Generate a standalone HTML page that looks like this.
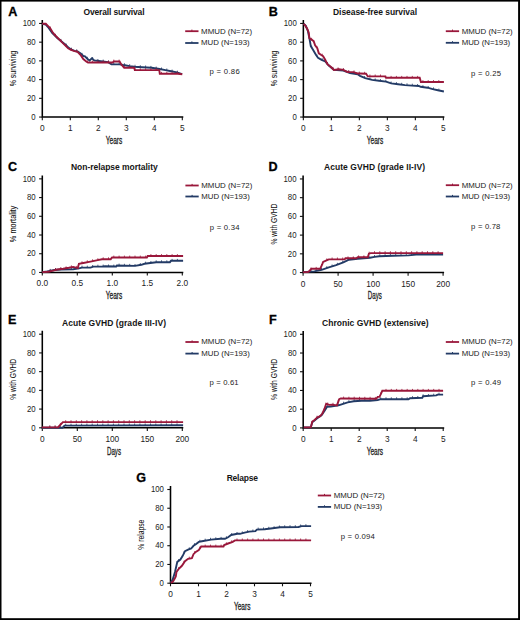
<!DOCTYPE html>
<html><head><meta charset="utf-8"><style>
html,body{margin:0;padding:0;background:#fff;}
svg{display:block;font-family:'Liberation Sans', sans-serif;}
</style></head><body>
<svg width="520" height="620" viewBox="0 0 520 620">
<rect x="0" y="0" width="520" height="620" fill="#fff"/>
<path d="M42.3,20.05 L42.3,117.05 L183.3,117.05" fill="none" stroke="#000" stroke-width="1.55" stroke-linecap="butt"/>
<path d="M39.099999999999994,117.05 L42.3,117.05" stroke="#111" stroke-width="1.1"/>
<text x="35.699999999999996" y="119.8" font-size="8.3" text-anchor="end" font-weight="normal" fill="#222" textLength="4.34" lengthAdjust="spacingAndGlyphs" >0</text>
<path d="M39.099999999999994,98.33 L42.3,98.33" stroke="#111" stroke-width="1.1"/>
<text x="35.699999999999996" y="101.08" font-size="8.3" text-anchor="end" font-weight="normal" fill="#222" textLength="8.68" lengthAdjust="spacingAndGlyphs" >20</text>
<path d="M39.099999999999994,79.61 L42.3,79.61" stroke="#111" stroke-width="1.1"/>
<text x="35.699999999999996" y="82.36" font-size="8.3" text-anchor="end" font-weight="normal" fill="#222" textLength="8.68" lengthAdjust="spacingAndGlyphs" >40</text>
<path d="M39.099999999999994,60.89 L42.3,60.89" stroke="#111" stroke-width="1.1"/>
<text x="35.699999999999996" y="63.64000000000001" font-size="8.3" text-anchor="end" font-weight="normal" fill="#222" textLength="8.68" lengthAdjust="spacingAndGlyphs" >60</text>
<path d="M39.099999999999994,42.17 L42.3,42.17" stroke="#111" stroke-width="1.1"/>
<text x="35.699999999999996" y="44.92" font-size="8.3" text-anchor="end" font-weight="normal" fill="#222" textLength="8.68" lengthAdjust="spacingAndGlyphs" >80</text>
<path d="M39.099999999999994,23.45 L42.3,23.45" stroke="#111" stroke-width="1.1"/>
<text x="35.699999999999996" y="26.200000000000003" font-size="8.3" text-anchor="end" font-weight="normal" fill="#222" textLength="13.01" lengthAdjust="spacingAndGlyphs" >100</text>
<path d="M42.30,117.05 L42.30,120.14999999999999" stroke="#111" stroke-width="1.1"/>
<text x="42.3" y="131.05" font-size="8.3" text-anchor="middle" font-weight="normal" fill="#222" >0</text>
<path d="M70.30,117.05 L70.30,120.14999999999999" stroke="#111" stroke-width="1.1"/>
<text x="70.3" y="131.05" font-size="8.3" text-anchor="middle" font-weight="normal" fill="#222" >1</text>
<path d="M98.30,117.05 L98.30,120.14999999999999" stroke="#111" stroke-width="1.1"/>
<text x="98.3" y="131.05" font-size="8.3" text-anchor="middle" font-weight="normal" fill="#222" >2</text>
<path d="M126.30,117.05 L126.30,120.14999999999999" stroke="#111" stroke-width="1.1"/>
<text x="126.3" y="131.05" font-size="8.3" text-anchor="middle" font-weight="normal" fill="#222" >3</text>
<path d="M154.30,117.05 L154.30,120.14999999999999" stroke="#111" stroke-width="1.1"/>
<text x="154.3" y="131.05" font-size="8.3" text-anchor="middle" font-weight="normal" fill="#222" >4</text>
<path d="M182.30,117.05 L182.30,120.14999999999999" stroke="#111" stroke-width="1.1"/>
<text x="182.3" y="131.05" font-size="8.3" text-anchor="middle" font-weight="normal" fill="#222" >5</text>
<text x="114.0" y="143.75" font-size="10.2" text-anchor="middle" font-weight="normal" fill="#222" textLength="16.5" lengthAdjust="spacingAndGlyphs" stroke="#222" stroke-width="0.3" >Years</text>
<text transform="translate(15.899999999999999,68.55) rotate(-90)" x="0" y="0" font-size="9.8" text-anchor="middle" fill="#0e0e0e" stroke="#0e0e0e" stroke-width="0.05" textLength="35.5" lengthAdjust="spacingAndGlyphs">% surviving</text>
<text x="8.3" y="16.0" font-size="12.6" text-anchor="start" font-weight="bold" fill="#000" stroke="#000" stroke-width="0.3">A</text>
<text x="83.5" y="14.6" font-size="8.5" text-anchor="start" font-weight="bold" fill="#151515" textLength="61" lengthAdjust="spacing" >Overall survival</text>
<path d="M185.2,31.2 L198.5,31.2" stroke="#9a183b" stroke-width="1.8"/>
<path d="M191.89999999999998,31.2 L191.89999999999998,29.599999999999998" stroke="#9a183b" stroke-width="1"/>
<text x="201.1" y="33.6" font-size="7.9" text-anchor="start" font-weight="normal" fill="#222" textLength="51" lengthAdjust="spacingAndGlyphs" >MMUD (N=72)</text>
<path d="M185.2,43.0 L198.5,43.0" stroke="#233b66" stroke-width="1.8"/>
<path d="M191.89999999999998,43.0 L191.89999999999998,41.4" stroke="#233b66" stroke-width="1"/>
<text x="201.1" y="45.4" font-size="7.9" text-anchor="start" font-weight="normal" fill="#222" textLength="48.5" lengthAdjust="spacingAndGlyphs" >MUD (N=193)</text>
<text x="209.5" y="73.5" font-size="7.7" text-anchor="start" font-weight="normal" fill="#222" textLength="30.2" lengthAdjust="spacing" >p = 0.86</text>
<path d="M42.2,23.8 L45.8,24.5 L48.0,27.0 L50.1,30.0 L52.3,33.0 L54.4,35.0 L57.3,38.0 L61.6,41.5 L65.2,44.5 L68.1,47.3 L71.0,49.5 L74.6,50.8 L77.5,51.5 L80.4,53.3 L83.3,56.0 L85.0,56.3 L87.3,58.7 L89.6,60.4 L91.9,58.3 L94.2,60.4 L98.8,61.0 L108.1,62.1 L111.5,64.4 L119.6,64.4 L123.1,65.0 L125.0,65.2 L129.6,66.1 L134.2,66.7 L142.3,67.2 L151.5,67.8 L159.6,69.0 L165.4,70.1 L171.2,71.3 L176.9,72.4 L182.1,74.2" fill="none" stroke="#233b66" stroke-width="1.9" stroke-linejoin="miter"/>
<path d="M50.2,30.1 V28.2 M55.5,36.1 V34.2 M60.8,40.8 V38.9 M66.1,45.4 V43.5 M71.4,49.6 V47.7 M76.7,51.3 V49.4 M82.0,54.8 V52.9 M87.3,58.7 V56.8 M92.6,58.9 V57.0 M97.9,60.9 V59.0 M103.2,61.5 V59.6 M108.5,62.4 V60.5 M113.8,64.4 V62.5 M119.1,64.4 V62.5 M124.4,65.1 V63.2 M129.7,66.1 V64.2 M135.0,66.7 V64.8 M140.3,67.1 V65.2 M145.6,67.4 V65.5 M150.9,67.8 V65.9 M156.2,68.5 V66.6 M161.5,69.4 V67.5 M166.8,70.4 V68.5 M172.1,71.5 V69.6 M177.4,72.6 V70.7" stroke="#233b66" stroke-width="0.8" fill="none"/>
<path d="M42.2,23.8 L45.8,23.8 L47.9,25.9 L50.1,28.1 L52.3,31.7 L54.4,34.6 L57.3,37.5 L61.6,41.8 L65.2,45.4 L68.1,48.3 L71.0,50.0 L74.6,51.2 L77.5,51.9 L80.4,54.8 L83.3,59.1 L86.2,61.5 L88.0,62.5 L112.7,62.5 L113.8,61.5 L119.6,61.5 L121.3,64.4 L124.2,67.8 L134.2,67.8 L134.8,70.1 L159.3,70.1 L159.8,73.8 L177.7,73.8 L182.3,74.2" fill="none" stroke="#9a183b" stroke-width="1.9" stroke-linejoin="miter"/>
<path d="M50.2,28.3 V26.4 M55.5,35.7 V33.8 M60.8,41.0 V39.1 M66.1,46.3 V44.4 M71.4,50.1 V48.2 M76.7,51.7 V49.8 M82.0,57.2 V55.3 M87.3,62.1 V60.2 M92.6,62.5 V60.6 M97.9,62.5 V60.6 M103.2,62.5 V60.6 M108.5,62.5 V60.6 M113.8,61.5 V59.6 M119.1,61.5 V59.6 M124.4,67.8 V65.9 M129.7,67.8 V65.9 M135.0,70.1 V68.2 M140.3,70.1 V68.2 M145.6,70.1 V68.2 M150.9,70.1 V68.2 M156.2,70.1 V68.2 M161.5,73.8 V71.9 M166.8,73.8 V71.9 M172.1,73.8 V71.9 M177.4,73.8 V71.9" stroke="#9a183b" stroke-width="0.8" fill="none"/>
<path d="M303.35,20.05 L303.35,117.05 L444.35,117.05" fill="none" stroke="#000" stroke-width="1.55" stroke-linecap="butt"/>
<path d="M300.15000000000003,117.05 L303.35,117.05" stroke="#111" stroke-width="1.1"/>
<text x="296.75" y="119.8" font-size="8.3" text-anchor="end" font-weight="normal" fill="#222" textLength="4.34" lengthAdjust="spacingAndGlyphs" >0</text>
<path d="M300.15000000000003,98.33 L303.35,98.33" stroke="#111" stroke-width="1.1"/>
<text x="296.75" y="101.08" font-size="8.3" text-anchor="end" font-weight="normal" fill="#222" textLength="8.68" lengthAdjust="spacingAndGlyphs" >20</text>
<path d="M300.15000000000003,79.61 L303.35,79.61" stroke="#111" stroke-width="1.1"/>
<text x="296.75" y="82.36" font-size="8.3" text-anchor="end" font-weight="normal" fill="#222" textLength="8.68" lengthAdjust="spacingAndGlyphs" >40</text>
<path d="M300.15000000000003,60.89 L303.35,60.89" stroke="#111" stroke-width="1.1"/>
<text x="296.75" y="63.64000000000001" font-size="8.3" text-anchor="end" font-weight="normal" fill="#222" textLength="8.68" lengthAdjust="spacingAndGlyphs" >60</text>
<path d="M300.15000000000003,42.17 L303.35,42.17" stroke="#111" stroke-width="1.1"/>
<text x="296.75" y="44.92" font-size="8.3" text-anchor="end" font-weight="normal" fill="#222" textLength="8.68" lengthAdjust="spacingAndGlyphs" >80</text>
<path d="M300.15000000000003,23.45 L303.35,23.45" stroke="#111" stroke-width="1.1"/>
<text x="296.75" y="26.200000000000003" font-size="8.3" text-anchor="end" font-weight="normal" fill="#222" textLength="13.01" lengthAdjust="spacingAndGlyphs" >100</text>
<path d="M303.35,117.05 L303.35,120.14999999999999" stroke="#111" stroke-width="1.1"/>
<text x="303.35" y="131.05" font-size="8.3" text-anchor="middle" font-weight="normal" fill="#222" >0</text>
<path d="M331.35,117.05 L331.35,120.14999999999999" stroke="#111" stroke-width="1.1"/>
<text x="331.35" y="131.05" font-size="8.3" text-anchor="middle" font-weight="normal" fill="#222" >1</text>
<path d="M359.35,117.05 L359.35,120.14999999999999" stroke="#111" stroke-width="1.1"/>
<text x="359.35" y="131.05" font-size="8.3" text-anchor="middle" font-weight="normal" fill="#222" >2</text>
<path d="M387.35,117.05 L387.35,120.14999999999999" stroke="#111" stroke-width="1.1"/>
<text x="387.35" y="131.05" font-size="8.3" text-anchor="middle" font-weight="normal" fill="#222" >3</text>
<path d="M415.35,117.05 L415.35,120.14999999999999" stroke="#111" stroke-width="1.1"/>
<text x="415.35" y="131.05" font-size="8.3" text-anchor="middle" font-weight="normal" fill="#222" >4</text>
<path d="M443.35,117.05 L443.35,120.14999999999999" stroke="#111" stroke-width="1.1"/>
<text x="443.35" y="131.05" font-size="8.3" text-anchor="middle" font-weight="normal" fill="#222" >5</text>
<text x="375.05" y="143.75" font-size="10.2" text-anchor="middle" font-weight="normal" fill="#222" textLength="16.5" lengthAdjust="spacingAndGlyphs" stroke="#222" stroke-width="0.3" >Years</text>
<text transform="translate(276.95000000000005,68.55) rotate(-90)" x="0" y="0" font-size="9.8" text-anchor="middle" fill="#0e0e0e" stroke="#0e0e0e" stroke-width="0.05" textLength="35.5" lengthAdjust="spacingAndGlyphs">% surviving</text>
<text x="268.7" y="16.1" font-size="12.6" text-anchor="start" font-weight="bold" fill="#000" stroke="#000" stroke-width="0.3">B</text>
<text x="333" y="14.6" font-size="8.5" text-anchor="start" font-weight="bold" fill="#151515" textLength="84" lengthAdjust="spacing" >Disease-free survival</text>
<path d="M445.8,31.2 L459.1,31.2" stroke="#9a183b" stroke-width="1.8"/>
<path d="M452.5,31.2 L452.5,29.599999999999998" stroke="#9a183b" stroke-width="1"/>
<text x="461.7" y="33.6" font-size="7.9" text-anchor="start" font-weight="normal" fill="#222" textLength="51" lengthAdjust="spacingAndGlyphs" >MMUD (N=72)</text>
<path d="M445.8,42.8 L459.1,42.8" stroke="#233b66" stroke-width="1.8"/>
<path d="M452.5,42.8 L452.5,41.199999999999996" stroke="#233b66" stroke-width="1"/>
<text x="461.7" y="45.199999999999996" font-size="7.9" text-anchor="start" font-weight="normal" fill="#222" textLength="48.5" lengthAdjust="spacingAndGlyphs" >MUD (N=193)</text>
<text x="471.09999999999997" y="75.9" font-size="7.7" text-anchor="start" font-weight="normal" fill="#222" textLength="30" lengthAdjust="spacing" >p = 0.25</text>
<path d="M303.6,23.8 L305.8,25.9 L307.9,31.0 L309.4,38.2 L310.8,46.1 L313.0,49.7 L315.9,54.8 L318.0,57.7 L321.6,59.8 L325.2,61.3 L328.8,65.6 L333.9,69.9 L343.3,70.5 L350.0,73.0 L357.7,74.3 L360.0,75.9 L365.2,78.2 L372.1,79.9 L379.0,80.8 L386.0,81.6 L391.2,83.4 L398.1,84.2 L405.0,85.1 L411.9,85.6 L418.8,86.0 L420.6,86.8 L427.5,87.7 L432.7,89.1 L437.9,90.3 L443.9,91.5" fill="none" stroke="#233b66" stroke-width="1.9" stroke-linejoin="miter"/>
<path d="M311.6,47.4 V45.5 M316.9,56.2 V54.3 M322.2,60.1 V58.2 M327.5,64.0 V62.1 M332.8,69.0 V67.1 M338.1,70.2 V68.3 M343.4,70.5 V68.6 M348.7,72.5 V70.6 M354.0,73.7 V71.8 M359.3,75.4 V73.5 M364.6,77.9 V76.0 M369.9,79.4 V77.5 M375.2,80.3 V78.4 M380.5,81.0 V79.1 M385.8,81.6 V79.7 M391.1,83.4 V81.5 M396.4,84.0 V82.1 M401.7,84.7 V82.8 M407.0,85.2 V83.3 M412.3,85.6 V83.7 M417.6,85.9 V84.0 M422.9,87.1 V85.2 M428.2,87.9 V86.0 M433.5,89.3 V87.4 M438.8,90.5 V88.6" stroke="#233b66" stroke-width="0.8" fill="none"/>
<path d="M303.6,23.8 L305.0,25.2 L307.2,28.8 L308.7,32.4 L309.4,38.2 L311.5,39.6 L313.7,41.1 L315.1,45.4 L317.3,48.3 L318.8,53.3 L320.9,54.8 L323.1,56.2 L325.2,59.8 L327.4,64.2 L331.0,67.0 L333.9,69.9 L338.9,69.2 L343.3,69.9 L347.6,72.1 L353.4,72.1 L357.7,73.5 L360.0,73.5 L366.1,73.8 L367.8,76.4 L385.1,76.4 L386.0,77.8 L419.7,77.8 L420.9,82.0 L443.9,82.0" fill="none" stroke="#9a183b" stroke-width="1.9" stroke-linejoin="miter"/>
<path d="M311.6,39.7 V37.8 M316.9,47.8 V45.9 M322.2,55.6 V53.7 M327.5,64.3 V62.4 M332.8,68.8 V66.9 M338.1,69.3 V67.4 M343.4,70.0 V68.1 M348.7,72.1 V70.2 M354.0,72.3 V70.4 M359.3,73.5 V71.6 M364.6,73.7 V71.8 M369.9,76.4 V74.5 M375.2,76.4 V74.5 M380.5,76.4 V74.5 M385.8,77.5 V75.6 M391.1,77.8 V75.9 M396.4,77.8 V75.9 M401.7,77.8 V75.9 M407.0,77.8 V75.9 M412.3,77.8 V75.9 M417.6,77.8 V75.9 M422.9,82.0 V80.1 M428.2,82.0 V80.1 M433.5,82.0 V80.1 M438.8,82.0 V80.1" stroke="#9a183b" stroke-width="0.8" fill="none"/>
<path d="M42.3,175.45 L42.3,272.45 L183.3,272.45" fill="none" stroke="#000" stroke-width="1.55" stroke-linecap="butt"/>
<path d="M39.099999999999994,272.45 L42.3,272.45" stroke="#111" stroke-width="1.1"/>
<text x="35.699999999999996" y="275.2" font-size="8.3" text-anchor="end" font-weight="normal" fill="#222" textLength="4.34" lengthAdjust="spacingAndGlyphs" >0</text>
<path d="M39.099999999999994,253.73 L42.3,253.73" stroke="#111" stroke-width="1.1"/>
<text x="35.699999999999996" y="256.48" font-size="8.3" text-anchor="end" font-weight="normal" fill="#222" textLength="8.68" lengthAdjust="spacingAndGlyphs" >20</text>
<path d="M39.099999999999994,235.01 L42.3,235.01" stroke="#111" stroke-width="1.1"/>
<text x="35.699999999999996" y="237.76" font-size="8.3" text-anchor="end" font-weight="normal" fill="#222" textLength="8.68" lengthAdjust="spacingAndGlyphs" >40</text>
<path d="M39.099999999999994,216.29 L42.3,216.29" stroke="#111" stroke-width="1.1"/>
<text x="35.699999999999996" y="219.04" font-size="8.3" text-anchor="end" font-weight="normal" fill="#222" textLength="8.68" lengthAdjust="spacingAndGlyphs" >60</text>
<path d="M39.099999999999994,197.57 L42.3,197.57" stroke="#111" stroke-width="1.1"/>
<text x="35.699999999999996" y="200.32" font-size="8.3" text-anchor="end" font-weight="normal" fill="#222" textLength="8.68" lengthAdjust="spacingAndGlyphs" >80</text>
<path d="M39.099999999999994,178.85 L42.3,178.85" stroke="#111" stroke-width="1.1"/>
<text x="35.699999999999996" y="181.6" font-size="8.3" text-anchor="end" font-weight="normal" fill="#222" textLength="13.01" lengthAdjust="spacingAndGlyphs" >100</text>
<path d="M42.30,272.45 L42.30,275.55" stroke="#111" stroke-width="1.1"/>
<text x="42.3" y="286.45" font-size="8.3" text-anchor="middle" font-weight="normal" fill="#222" >0.0</text>
<path d="M77.30,272.45 L77.30,275.55" stroke="#111" stroke-width="1.1"/>
<text x="77.3" y="286.45" font-size="8.3" text-anchor="middle" font-weight="normal" fill="#222" >0.5</text>
<path d="M112.30,272.45 L112.30,275.55" stroke="#111" stroke-width="1.1"/>
<text x="112.3" y="286.45" font-size="8.3" text-anchor="middle" font-weight="normal" fill="#222" >1.0</text>
<path d="M147.30,272.45 L147.30,275.55" stroke="#111" stroke-width="1.1"/>
<text x="147.3" y="286.45" font-size="8.3" text-anchor="middle" font-weight="normal" fill="#222" >1.5</text>
<path d="M182.30,272.45 L182.30,275.55" stroke="#111" stroke-width="1.1"/>
<text x="182.3" y="286.45" font-size="8.3" text-anchor="middle" font-weight="normal" fill="#222" >2.0</text>
<text x="114.0" y="299.15" font-size="10.2" text-anchor="middle" font-weight="normal" fill="#222" textLength="16.5" lengthAdjust="spacingAndGlyphs" stroke="#222" stroke-width="0.3" >Years</text>
<text transform="translate(15.899999999999999,223.95) rotate(-90)" x="0" y="0" font-size="9.8" text-anchor="middle" fill="#0e0e0e" stroke="#0e0e0e" stroke-width="0.05" textLength="36.5" lengthAdjust="spacingAndGlyphs">% mortality</text>
<text x="7.9" y="170.6" font-size="12.6" text-anchor="start" font-weight="bold" fill="#000" stroke="#000" stroke-width="0.3">C</text>
<text x="71" y="169.79999999999998" font-size="8.5" text-anchor="start" font-weight="bold" fill="#151515" textLength="86.7" lengthAdjust="spacing" >Non-relapse mortality</text>
<path d="M185.4,185.5 L198.70000000000002,185.5" stroke="#9a183b" stroke-width="1.8"/>
<path d="M192.1,185.5 L192.1,183.9" stroke="#9a183b" stroke-width="1"/>
<text x="201.3" y="187.9" font-size="7.9" text-anchor="start" font-weight="normal" fill="#222" textLength="51" lengthAdjust="spacingAndGlyphs" >MMUD (N=72)</text>
<path d="M185.4,196.5 L198.70000000000002,196.5" stroke="#233b66" stroke-width="1.8"/>
<path d="M192.1,196.5 L192.1,194.9" stroke="#233b66" stroke-width="1"/>
<text x="201.3" y="198.9" font-size="7.9" text-anchor="start" font-weight="normal" fill="#222" textLength="48.5" lengthAdjust="spacingAndGlyphs" >MUD (N=193)</text>
<text x="209.8" y="229.9" font-size="7.7" text-anchor="start" font-weight="normal" fill="#222" textLength="29.7" lengthAdjust="spacing" >p = 0.34</text>
<path d="M42.2,272.1 L47.2,271.4 L54.4,270.0 L61.6,269.5 L73.2,269.2 L79.0,268.4 L81.8,267.6 L90.5,267.6 L93.4,266.6 L102.0,266.6 L104.9,266.3 L116.2,266.5 L116.9,265.5 L135.0,265.9 L141.3,264.8 L144.5,263.8 L156.2,262.2 L169.9,262.2 L171.0,260.8 L183.1,260.8" fill="none" stroke="#233b66" stroke-width="1.9" stroke-linejoin="miter"/>
<path d="M50.2,270.8 V268.9 M55.5,269.9 V268.0 M60.8,269.6 V267.7 M66.1,269.4 V267.5 M71.4,269.2 V267.3 M76.7,268.7 V266.8 M82.0,267.6 V265.7 M87.3,267.6 V265.7 M92.6,266.9 V265.0 M97.9,266.6 V264.7 M103.2,266.5 V264.6 M108.5,266.4 V264.5 M113.8,266.5 V264.6 M119.1,265.5 V263.6 M124.4,265.7 V263.8 M129.7,265.8 V263.9 M135.0,265.9 V264.0 M140.3,265.0 V263.1 M145.6,263.6 V261.7 M150.9,262.9 V261.0 M156.2,262.2 V260.3 M161.5,262.2 V260.3 M166.8,262.2 V260.3 M172.1,260.8 V258.9 M177.4,260.8 V258.9" stroke="#233b66" stroke-width="0.8" fill="none"/>
<path d="M42.2,272.1 L48.7,271.8 L53.0,270.7 L57.3,269.5 L63.1,268.8 L68.8,267.8 L73.2,266.9 L77.8,268.1 L78.9,263.8 L83.3,263.0 L90.5,261.6 L97.7,260.1 L102.0,259.2 L110.7,259.2 L112.1,257.5 L146.9,257.5 L147.7,256.0 L183.1,256.0" fill="none" stroke="#9a183b" stroke-width="1.9" stroke-linejoin="miter"/>
<path d="M50.2,271.4 V269.5 M55.5,270.0 V268.1 M60.8,269.1 V267.2 M66.1,268.3 V266.4 M71.4,267.3 V265.4 M76.7,267.8 V265.9 M82.0,263.2 V261.3 M87.3,262.2 V260.3 M92.6,261.2 V259.3 M97.9,260.1 V258.2 M103.2,259.2 V257.3 M108.5,259.2 V257.3 M113.8,257.5 V255.6 M119.1,257.5 V255.6 M124.4,257.5 V255.6 M129.7,257.5 V255.6 M135.0,257.5 V255.6 M140.3,257.5 V255.6 M145.6,257.5 V255.6 M150.9,256.0 V254.1 M156.2,256.0 V254.1 M161.5,256.0 V254.1 M166.8,256.0 V254.1 M172.1,256.0 V254.1 M177.4,256.0 V254.1" stroke="#9a183b" stroke-width="0.8" fill="none"/>
<path d="M303.1,175.54999999999998 L303.1,272.55 L444.1,272.55" fill="none" stroke="#000" stroke-width="1.55" stroke-linecap="butt"/>
<path d="M299.90000000000003,272.55 L303.1,272.55" stroke="#111" stroke-width="1.1"/>
<text x="296.5" y="275.3" font-size="8.3" text-anchor="end" font-weight="normal" fill="#222" textLength="4.34" lengthAdjust="spacingAndGlyphs" >0</text>
<path d="M299.90000000000003,253.83 L303.1,253.83" stroke="#111" stroke-width="1.1"/>
<text x="296.5" y="256.58000000000004" font-size="8.3" text-anchor="end" font-weight="normal" fill="#222" textLength="8.68" lengthAdjust="spacingAndGlyphs" >20</text>
<path d="M299.90000000000003,235.11 L303.1,235.11" stroke="#111" stroke-width="1.1"/>
<text x="296.5" y="237.86" font-size="8.3" text-anchor="end" font-weight="normal" fill="#222" textLength="8.68" lengthAdjust="spacingAndGlyphs" >40</text>
<path d="M299.90000000000003,216.39 L303.1,216.39" stroke="#111" stroke-width="1.1"/>
<text x="296.5" y="219.14" font-size="8.3" text-anchor="end" font-weight="normal" fill="#222" textLength="8.68" lengthAdjust="spacingAndGlyphs" >60</text>
<path d="M299.90000000000003,197.67 L303.1,197.67" stroke="#111" stroke-width="1.1"/>
<text x="296.5" y="200.42" font-size="8.3" text-anchor="end" font-weight="normal" fill="#222" textLength="8.68" lengthAdjust="spacingAndGlyphs" >80</text>
<path d="M299.90000000000003,178.95 L303.1,178.95" stroke="#111" stroke-width="1.1"/>
<text x="296.5" y="181.7" font-size="8.3" text-anchor="end" font-weight="normal" fill="#222" textLength="13.01" lengthAdjust="spacingAndGlyphs" >100</text>
<path d="M303.10,272.55 L303.10,275.65000000000003" stroke="#111" stroke-width="1.1"/>
<text x="303.1" y="286.55" font-size="8.3" text-anchor="middle" font-weight="normal" fill="#222" >0</text>
<path d="M338.10,272.55 L338.10,275.65000000000003" stroke="#111" stroke-width="1.1"/>
<text x="338.1" y="286.55" font-size="8.3" text-anchor="middle" font-weight="normal" fill="#222" >50</text>
<path d="M373.10,272.55 L373.10,275.65000000000003" stroke="#111" stroke-width="1.1"/>
<text x="373.1" y="286.55" font-size="8.3" text-anchor="middle" font-weight="normal" fill="#222" >100</text>
<path d="M408.10,272.55 L408.10,275.65000000000003" stroke="#111" stroke-width="1.1"/>
<text x="408.1" y="286.55" font-size="8.3" text-anchor="middle" font-weight="normal" fill="#222" >150</text>
<path d="M443.10,272.55 L443.10,275.65000000000003" stroke="#111" stroke-width="1.1"/>
<text x="443.1" y="286.55" font-size="8.3" text-anchor="middle" font-weight="normal" fill="#222" >200</text>
<text x="374.8" y="299.25" font-size="10.2" text-anchor="middle" font-weight="normal" fill="#222" textLength="14" lengthAdjust="spacingAndGlyphs" stroke="#222" stroke-width="0.3" >Days</text>
<text transform="translate(276.70000000000005,224.05) rotate(-90)" x="0" y="0" font-size="9.8" text-anchor="middle" fill="#0e0e0e" stroke="#0e0e0e" stroke-width="0.05" textLength="41" lengthAdjust="spacingAndGlyphs">% with GVHD</text>
<text x="268.4" y="170.6" font-size="12.6" text-anchor="start" font-weight="bold" fill="#000" stroke="#000" stroke-width="0.3">D</text>
<text x="324" y="169.79999999999998" font-size="8.5" text-anchor="start" font-weight="bold" fill="#151515" textLength="101" lengthAdjust="spacing" >Acute GVHD (grade II-IV)</text>
<path d="M445.8,185.2 L459.1,185.2" stroke="#9a183b" stroke-width="1.8"/>
<path d="M452.5,185.2 L452.5,183.6" stroke="#9a183b" stroke-width="1"/>
<text x="461.7" y="187.6" font-size="7.9" text-anchor="start" font-weight="normal" fill="#222" textLength="51" lengthAdjust="spacingAndGlyphs" >MMUD (N=72)</text>
<path d="M445.8,196.5 L459.1,196.5" stroke="#233b66" stroke-width="1.8"/>
<path d="M452.5,196.5 L452.5,194.9" stroke="#233b66" stroke-width="1"/>
<text x="461.7" y="198.9" font-size="7.9" text-anchor="start" font-weight="normal" fill="#222" textLength="48.5" lengthAdjust="spacingAndGlyphs" >MUD (N=193)</text>
<text x="471.09999999999997" y="228.9" font-size="7.7" text-anchor="start" font-weight="normal" fill="#222" textLength="29.3" lengthAdjust="spacing" >p = 0.78</text>
<path d="M302.9,272.1 L314.4,271.4 L321.6,269.8 L328.8,267.4 L336.1,265.2 L343.3,262.3 L349.0,259.7 L357.7,258.7 L370.0,257.7 L374.6,256.9 L379.2,256.2 L393.1,255.7 L408.5,255.4 L416.2,254.6 L443.1,254.6" fill="none" stroke="#233b66" stroke-width="1.9" stroke-linejoin="miter"/>
<path d="M310.9,271.6 V269.7 M316.2,271.0 V269.1 M321.5,269.8 V267.9 M326.8,268.1 V266.2 M332.1,266.4 V264.5 M337.4,264.7 V262.8 M342.7,262.5 V260.6 M348.0,260.2 V258.3 M353.3,259.2 V257.3 M358.6,258.6 V256.7 M363.9,258.2 V256.3 M369.2,257.8 V255.9 M374.5,256.9 V255.0 M379.8,256.2 V254.3 M385.1,256.0 V254.1 M390.4,255.8 V253.9 M395.7,255.6 V253.7 M401.0,255.5 V253.6 M406.3,255.4 V253.5 M411.6,255.1 V253.2 M416.9,254.6 V252.7 M422.2,254.6 V252.7 M427.5,254.6 V252.7 M432.8,254.6 V252.7 M438.1,254.6 V252.7" stroke="#233b66" stroke-width="0.8" fill="none"/>
<path d="M302.9,272.1 L307.9,272.1 L309.4,271.0 L311.5,268.8 L320.2,268.8 L322.4,263.8 L323.1,262.0 L326.0,260.6 L328.8,259.4 L344.7,259.4 L345.4,258.3 L356.3,258.3 L357.7,257.3 L367.8,257.3 L368.9,253.7 L370.7,253.1 L443.1,253.1" fill="none" stroke="#9a183b" stroke-width="1.9" stroke-linejoin="miter"/>
<path d="M310.9,269.4 V267.5 M316.2,268.8 V266.9 M321.5,265.8 V263.9 M326.8,260.3 V258.4 M332.1,259.4 V257.5 M337.4,259.4 V257.5 M342.7,259.4 V257.5 M348.0,258.3 V256.4 M353.3,258.3 V256.4 M358.6,257.3 V255.4 M363.9,257.3 V255.4 M369.2,253.6 V251.7 M374.5,253.1 V251.2 M379.8,253.1 V251.2 M385.1,253.1 V251.2 M390.4,253.1 V251.2 M395.7,253.1 V251.2 M401.0,253.1 V251.2 M406.3,253.1 V251.2 M411.6,253.1 V251.2 M416.9,253.1 V251.2 M422.2,253.1 V251.2 M427.5,253.1 V251.2 M432.8,253.1 V251.2 M438.1,253.1 V251.2" stroke="#9a183b" stroke-width="0.8" fill="none"/>
<path d="M42.3,330.8 L42.3,427.8 L183.3,427.8" fill="none" stroke="#000" stroke-width="1.55" stroke-linecap="butt"/>
<path d="M39.099999999999994,427.80 L42.3,427.80" stroke="#111" stroke-width="1.1"/>
<text x="35.699999999999996" y="430.55" font-size="8.3" text-anchor="end" font-weight="normal" fill="#222" textLength="4.34" lengthAdjust="spacingAndGlyphs" >0</text>
<path d="M39.099999999999994,409.08 L42.3,409.08" stroke="#111" stroke-width="1.1"/>
<text x="35.699999999999996" y="411.83" font-size="8.3" text-anchor="end" font-weight="normal" fill="#222" textLength="8.68" lengthAdjust="spacingAndGlyphs" >20</text>
<path d="M39.099999999999994,390.36 L42.3,390.36" stroke="#111" stroke-width="1.1"/>
<text x="35.699999999999996" y="393.11" font-size="8.3" text-anchor="end" font-weight="normal" fill="#222" textLength="8.68" lengthAdjust="spacingAndGlyphs" >40</text>
<path d="M39.099999999999994,371.64 L42.3,371.64" stroke="#111" stroke-width="1.1"/>
<text x="35.699999999999996" y="374.39" font-size="8.3" text-anchor="end" font-weight="normal" fill="#222" textLength="8.68" lengthAdjust="spacingAndGlyphs" >60</text>
<path d="M39.099999999999994,352.92 L42.3,352.92" stroke="#111" stroke-width="1.1"/>
<text x="35.699999999999996" y="355.66999999999996" font-size="8.3" text-anchor="end" font-weight="normal" fill="#222" textLength="8.68" lengthAdjust="spacingAndGlyphs" >80</text>
<path d="M39.099999999999994,334.20 L42.3,334.20" stroke="#111" stroke-width="1.1"/>
<text x="35.699999999999996" y="336.95" font-size="8.3" text-anchor="end" font-weight="normal" fill="#222" textLength="13.01" lengthAdjust="spacingAndGlyphs" >100</text>
<path d="M42.30,427.8 L42.30,430.90000000000003" stroke="#111" stroke-width="1.1"/>
<text x="42.3" y="441.8" font-size="8.3" text-anchor="middle" font-weight="normal" fill="#222" >0</text>
<path d="M77.30,427.8 L77.30,430.90000000000003" stroke="#111" stroke-width="1.1"/>
<text x="77.3" y="441.8" font-size="8.3" text-anchor="middle" font-weight="normal" fill="#222" >50</text>
<path d="M112.30,427.8 L112.30,430.90000000000003" stroke="#111" stroke-width="1.1"/>
<text x="112.3" y="441.8" font-size="8.3" text-anchor="middle" font-weight="normal" fill="#222" >100</text>
<path d="M147.30,427.8 L147.30,430.90000000000003" stroke="#111" stroke-width="1.1"/>
<text x="147.3" y="441.8" font-size="8.3" text-anchor="middle" font-weight="normal" fill="#222" >150</text>
<path d="M182.30,427.8 L182.30,430.90000000000003" stroke="#111" stroke-width="1.1"/>
<text x="182.3" y="441.8" font-size="8.3" text-anchor="middle" font-weight="normal" fill="#222" >200</text>
<text x="114.0" y="454.5" font-size="10.2" text-anchor="middle" font-weight="normal" fill="#222" textLength="14" lengthAdjust="spacingAndGlyphs" stroke="#222" stroke-width="0.3" >Days</text>
<text transform="translate(15.899999999999999,379.3) rotate(-90)" x="0" y="0" font-size="9.8" text-anchor="middle" fill="#0e0e0e" stroke="#0e0e0e" stroke-width="0.05" textLength="41" lengthAdjust="spacingAndGlyphs">% with GVHD</text>
<text x="7.9" y="323.5" font-size="12.6" text-anchor="start" font-weight="bold" fill="#000" stroke="#000" stroke-width="0.3">E</text>
<text x="62" y="325.8" font-size="8.5" text-anchor="start" font-weight="bold" fill="#151515" textLength="104" lengthAdjust="spacing" >Acute GVHD (grade III-IV)</text>
<path d="M185.4,342 L198.70000000000002,342" stroke="#9a183b" stroke-width="1.8"/>
<path d="M192.1,342 L192.1,340.4" stroke="#9a183b" stroke-width="1"/>
<text x="201.3" y="344.4" font-size="7.9" text-anchor="start" font-weight="normal" fill="#222" textLength="51" lengthAdjust="spacingAndGlyphs" >MMUD (N=72)</text>
<path d="M185.4,353.6 L198.70000000000002,353.6" stroke="#233b66" stroke-width="1.8"/>
<path d="M192.1,353.6 L192.1,352.0" stroke="#233b66" stroke-width="1"/>
<text x="201.3" y="356.0" font-size="7.9" text-anchor="start" font-weight="normal" fill="#222" textLength="48.5" lengthAdjust="spacingAndGlyphs" >MUD (N=193)</text>
<text x="209.5" y="384.9" font-size="7.7" text-anchor="start" font-weight="normal" fill="#222" textLength="29.1" lengthAdjust="spacing" >p = 0.61</text>
<path d="M41.8,427.7 L62.6,427.7 L64.5,425.6 L183.1,425.3" fill="none" stroke="#233b66" stroke-width="1.9" stroke-linejoin="miter"/>
<path d="M49.8,427.7 V425.8 M55.1,427.7 V425.8 M60.4,427.7 V425.8 M65.7,425.6 V423.7 M71.0,425.6 V423.7 M76.3,425.6 V423.7 M81.6,425.6 V423.7 M86.9,425.5 V423.6 M92.2,425.5 V423.6 M97.5,425.5 V423.6 M102.8,425.5 V423.6 M108.1,425.5 V423.6 M113.4,425.5 V423.6 M118.7,425.5 V423.6 M124.0,425.4 V423.5 M129.3,425.4 V423.5 M134.6,425.4 V423.5 M139.9,425.4 V423.5 M145.2,425.4 V423.5 M150.5,425.4 V423.5 M155.8,425.4 V423.5 M161.1,425.4 V423.5 M166.4,425.3 V423.4 M171.7,425.3 V423.4 M177.0,425.3 V423.4" stroke="#233b66" stroke-width="0.8" fill="none"/>
<path d="M41.8,427.4 L58.1,427.2 L62.9,422.1 L183.1,422.1" fill="none" stroke="#9a183b" stroke-width="1.9" stroke-linejoin="miter"/>
<path d="M49.8,427.3 V425.4 M55.1,427.2 V425.3 M60.4,424.8 V422.9 M65.7,422.1 V420.2 M71.0,422.1 V420.2 M76.3,422.1 V420.2 M81.6,422.1 V420.2 M86.9,422.1 V420.2 M92.2,422.1 V420.2 M97.5,422.1 V420.2 M102.8,422.1 V420.2 M108.1,422.1 V420.2 M113.4,422.1 V420.2 M118.7,422.1 V420.2 M124.0,422.1 V420.2 M129.3,422.1 V420.2 M134.6,422.1 V420.2 M139.9,422.1 V420.2 M145.2,422.1 V420.2 M150.5,422.1 V420.2 M155.8,422.1 V420.2 M161.1,422.1 V420.2 M166.4,422.1 V420.2 M171.7,422.1 V420.2 M177.0,422.1 V420.2" stroke="#9a183b" stroke-width="0.8" fill="none"/>
<path d="M303.2,330.90000000000003 L303.2,427.9 L444.2,427.9" fill="none" stroke="#000" stroke-width="1.55" stroke-linecap="butt"/>
<path d="M300.0,427.90 L303.2,427.90" stroke="#111" stroke-width="1.1"/>
<text x="296.59999999999997" y="430.65" font-size="8.3" text-anchor="end" font-weight="normal" fill="#222" textLength="4.34" lengthAdjust="spacingAndGlyphs" >0</text>
<path d="M300.0,409.18 L303.2,409.18" stroke="#111" stroke-width="1.1"/>
<text x="296.59999999999997" y="411.93" font-size="8.3" text-anchor="end" font-weight="normal" fill="#222" textLength="8.68" lengthAdjust="spacingAndGlyphs" >20</text>
<path d="M300.0,390.46 L303.2,390.46" stroke="#111" stroke-width="1.1"/>
<text x="296.59999999999997" y="393.21" font-size="8.3" text-anchor="end" font-weight="normal" fill="#222" textLength="8.68" lengthAdjust="spacingAndGlyphs" >40</text>
<path d="M300.0,371.74 L303.2,371.74" stroke="#111" stroke-width="1.1"/>
<text x="296.59999999999997" y="374.49" font-size="8.3" text-anchor="end" font-weight="normal" fill="#222" textLength="8.68" lengthAdjust="spacingAndGlyphs" >60</text>
<path d="M300.0,353.02 L303.2,353.02" stroke="#111" stroke-width="1.1"/>
<text x="296.59999999999997" y="355.77" font-size="8.3" text-anchor="end" font-weight="normal" fill="#222" textLength="8.68" lengthAdjust="spacingAndGlyphs" >80</text>
<path d="M300.0,334.30 L303.2,334.30" stroke="#111" stroke-width="1.1"/>
<text x="296.59999999999997" y="337.05" font-size="8.3" text-anchor="end" font-weight="normal" fill="#222" textLength="13.01" lengthAdjust="spacingAndGlyphs" >100</text>
<path d="M303.20,427.9 L303.20,431.0" stroke="#111" stroke-width="1.1"/>
<text x="303.2" y="441.9" font-size="8.3" text-anchor="middle" font-weight="normal" fill="#222" >0</text>
<path d="M331.20,427.9 L331.20,431.0" stroke="#111" stroke-width="1.1"/>
<text x="331.2" y="441.9" font-size="8.3" text-anchor="middle" font-weight="normal" fill="#222" >1</text>
<path d="M359.20,427.9 L359.20,431.0" stroke="#111" stroke-width="1.1"/>
<text x="359.2" y="441.9" font-size="8.3" text-anchor="middle" font-weight="normal" fill="#222" >2</text>
<path d="M387.20,427.9 L387.20,431.0" stroke="#111" stroke-width="1.1"/>
<text x="387.2" y="441.9" font-size="8.3" text-anchor="middle" font-weight="normal" fill="#222" >3</text>
<path d="M415.20,427.9 L415.20,431.0" stroke="#111" stroke-width="1.1"/>
<text x="415.2" y="441.9" font-size="8.3" text-anchor="middle" font-weight="normal" fill="#222" >4</text>
<path d="M443.20,427.9 L443.20,431.0" stroke="#111" stroke-width="1.1"/>
<text x="443.2" y="441.9" font-size="8.3" text-anchor="middle" font-weight="normal" fill="#222" >5</text>
<text x="374.9" y="454.59999999999997" font-size="10.2" text-anchor="middle" font-weight="normal" fill="#222" textLength="16.5" lengthAdjust="spacingAndGlyphs" stroke="#222" stroke-width="0.3" >Years</text>
<text transform="translate(276.8,379.40000000000003) rotate(-90)" x="0" y="0" font-size="9.8" text-anchor="middle" fill="#0e0e0e" stroke="#0e0e0e" stroke-width="0.05" textLength="41" lengthAdjust="spacingAndGlyphs">% with GVHD</text>
<text x="269.0" y="323.5" font-size="12.6" text-anchor="start" font-weight="bold" fill="#000" stroke="#000" stroke-width="0.3">F</text>
<text x="322" y="325.8" font-size="8.5" text-anchor="start" font-weight="bold" fill="#151515" textLength="106.5" lengthAdjust="spacing" >Chronic GVHD (extensive)</text>
<path d="M445.8,342 L459.1,342" stroke="#9a183b" stroke-width="1.8"/>
<path d="M452.5,342 L452.5,340.4" stroke="#9a183b" stroke-width="1"/>
<text x="461.7" y="344.4" font-size="7.9" text-anchor="start" font-weight="normal" fill="#222" textLength="51" lengthAdjust="spacingAndGlyphs" >MMUD (N=72)</text>
<path d="M445.8,353.6 L459.1,353.6" stroke="#233b66" stroke-width="1.8"/>
<path d="M452.5,353.6 L452.5,352.0" stroke="#233b66" stroke-width="1"/>
<text x="461.7" y="356.0" font-size="7.9" text-anchor="start" font-weight="normal" fill="#222" textLength="48.5" lengthAdjust="spacingAndGlyphs" >MUD (N=193)</text>
<text x="471.09999999999997" y="384.9" font-size="7.7" text-anchor="start" font-weight="normal" fill="#222" textLength="30" lengthAdjust="spacing" >p = 0.49</text>
<path d="M303.8,427.4 L310.8,427.4 L312.3,422.3 L316.9,418.5 L321.5,415.4 L324.6,410.8 L326.9,406.9 L330.8,406.5 L338.5,405.4 L343.1,403.8 L347.7,402.3 L353.8,401.2 L361.5,400.8 L370.0,400.8 L377.7,400.0 L380.8,399.2 L408.5,399.2 L410.0,398.2 L422.3,397.7 L423.1,396.2 L436.2,395.4 L437.7,394.6 L443.1,394.6" fill="none" stroke="#233b66" stroke-width="1.9" stroke-linejoin="miter"/>
<path d="M311.8,424.0 V422.1 M317.1,418.4 V416.5 M322.4,414.1 V412.2 M327.7,406.8 V404.9 M333.0,406.2 V404.3 M338.3,405.4 V403.5 M343.6,403.6 V401.7 M348.9,402.1 V400.2 M354.2,401.2 V399.3 M359.5,400.9 V399.0 M364.8,400.8 V398.9 M370.1,400.8 V398.9 M375.4,400.2 V398.3 M380.7,399.2 V397.3 M386.0,399.2 V397.3 M391.3,399.2 V397.3 M396.6,399.2 V397.3 M401.9,399.2 V397.3 M407.2,399.2 V397.3 M412.5,398.1 V396.2 M417.8,397.9 V396.0 M423.1,396.2 V394.3 M428.4,395.9 V394.0 M433.7,395.6 V393.7 M439.0,394.6 V392.7" stroke="#233b66" stroke-width="0.8" fill="none"/>
<path d="M303.8,427.4 L310.8,427.4 L312.3,421.5 L314.6,420.0 L316.9,417.7 L320.0,416.2 L322.3,413.8 L324.6,408.5 L326.2,403.8 L329.2,404.9 L332.3,404.6 L336.9,405.4 L339.2,399.2 L340.8,398.5 L376.2,398.8 L377.7,396.9 L379.5,396.9 L380.8,394.2 L382.3,390.8 L443.1,390.8" fill="none" stroke="#9a183b" stroke-width="1.9" stroke-linejoin="miter"/>
<path d="M311.8,423.5 V421.6 M317.1,417.6 V415.7 M322.4,413.6 V411.7 M327.7,404.4 V402.5 M333.0,404.7 V402.8 M338.3,401.6 V399.7 M343.6,398.5 V396.6 M348.9,398.6 V396.7 M354.2,398.6 V396.7 M359.5,398.7 V396.8 M364.8,398.7 V396.8 M370.1,398.7 V396.8 M375.4,398.8 V396.9 M380.7,394.4 V392.5 M386.0,390.8 V388.9 M391.3,390.8 V388.9 M396.6,390.8 V388.9 M401.9,390.8 V388.9 M407.2,390.8 V388.9 M412.5,390.8 V388.9 M417.8,390.8 V388.9 M423.1,390.8 V388.9 M428.4,390.8 V388.9 M433.7,390.8 V388.9 M439.0,390.8 V388.9" stroke="#9a183b" stroke-width="0.8" fill="none"/>
<path d="M170.5,486.1 L170.5,583.2 L311.5,583.2" fill="none" stroke="#000" stroke-width="1.55" stroke-linecap="butt"/>
<path d="M167.3,583.20 L170.5,583.20" stroke="#111" stroke-width="1.1"/>
<text x="163.9" y="585.95" font-size="8.3" text-anchor="end" font-weight="normal" fill="#222" textLength="4.34" lengthAdjust="spacingAndGlyphs" >0</text>
<path d="M167.3,564.46 L170.5,564.46" stroke="#111" stroke-width="1.1"/>
<text x="163.9" y="567.21" font-size="8.3" text-anchor="end" font-weight="normal" fill="#222" textLength="8.68" lengthAdjust="spacingAndGlyphs" >20</text>
<path d="M167.3,545.72 L170.5,545.72" stroke="#111" stroke-width="1.1"/>
<text x="163.9" y="548.47" font-size="8.3" text-anchor="end" font-weight="normal" fill="#222" textLength="8.68" lengthAdjust="spacingAndGlyphs" >40</text>
<path d="M167.3,526.98 L170.5,526.98" stroke="#111" stroke-width="1.1"/>
<text x="163.9" y="529.73" font-size="8.3" text-anchor="end" font-weight="normal" fill="#222" textLength="8.68" lengthAdjust="spacingAndGlyphs" >60</text>
<path d="M167.3,508.24 L170.5,508.24" stroke="#111" stroke-width="1.1"/>
<text x="163.9" y="510.99" font-size="8.3" text-anchor="end" font-weight="normal" fill="#222" textLength="8.68" lengthAdjust="spacingAndGlyphs" >80</text>
<path d="M167.3,489.50 L170.5,489.50" stroke="#111" stroke-width="1.1"/>
<text x="163.9" y="492.25" font-size="8.3" text-anchor="end" font-weight="normal" fill="#222" textLength="13.01" lengthAdjust="spacingAndGlyphs" >100</text>
<path d="M170.50,583.2 L170.50,586.3000000000001" stroke="#111" stroke-width="1.1"/>
<text x="170.5" y="597.2" font-size="8.3" text-anchor="middle" font-weight="normal" fill="#222" >0</text>
<path d="M198.50,583.2 L198.50,586.3000000000001" stroke="#111" stroke-width="1.1"/>
<text x="198.5" y="597.2" font-size="8.3" text-anchor="middle" font-weight="normal" fill="#222" >1</text>
<path d="M226.50,583.2 L226.50,586.3000000000001" stroke="#111" stroke-width="1.1"/>
<text x="226.5" y="597.2" font-size="8.3" text-anchor="middle" font-weight="normal" fill="#222" >2</text>
<path d="M254.50,583.2 L254.50,586.3000000000001" stroke="#111" stroke-width="1.1"/>
<text x="254.5" y="597.2" font-size="8.3" text-anchor="middle" font-weight="normal" fill="#222" >3</text>
<path d="M282.50,583.2 L282.50,586.3000000000001" stroke="#111" stroke-width="1.1"/>
<text x="282.5" y="597.2" font-size="8.3" text-anchor="middle" font-weight="normal" fill="#222" >4</text>
<path d="M310.50,583.2 L310.50,586.3000000000001" stroke="#111" stroke-width="1.1"/>
<text x="310.5" y="597.2" font-size="8.3" text-anchor="middle" font-weight="normal" fill="#222" >5</text>
<text x="242.2" y="609.9000000000001" font-size="10.2" text-anchor="middle" font-weight="normal" fill="#222" textLength="16.5" lengthAdjust="spacingAndGlyphs" stroke="#222" stroke-width="0.3" >Years</text>
<text transform="translate(144.1,534.65) rotate(-90)" x="0" y="0" font-size="8.9" text-anchor="middle" fill="#0e0e0e" stroke="#0e0e0e" stroke-width="0.05" textLength="30" lengthAdjust="spacingAndGlyphs">% relapse</text>
<text x="136.3" y="481.7" font-size="12.6" text-anchor="start" font-weight="bold" fill="#000" stroke="#000" stroke-width="0.3">G</text>
<text x="226.7" y="480.5" font-size="8.5" text-anchor="start" font-weight="bold" fill="#151515" textLength="31.3" lengthAdjust="spacing" >Relapse</text>
<path d="M317.8,495.5 L331.1,495.5" stroke="#9a183b" stroke-width="1.8"/>
<path d="M324.5,495.5 L324.5,493.9" stroke="#9a183b" stroke-width="1"/>
<text x="333.7" y="497.9" font-size="7.9" text-anchor="start" font-weight="normal" fill="#222" textLength="51" lengthAdjust="spacingAndGlyphs" >MMUD (N=72)</text>
<path d="M317.8,506.9 L331.1,506.9" stroke="#233b66" stroke-width="1.8"/>
<path d="M324.5,506.9 L324.5,505.29999999999995" stroke="#233b66" stroke-width="1"/>
<text x="333.7" y="509.29999999999995" font-size="7.9" text-anchor="start" font-weight="normal" fill="#222" textLength="48.5" lengthAdjust="spacingAndGlyphs" >MUD (N=193)</text>
<text x="340.65" y="538.5" font-size="7.7" text-anchor="start" font-weight="normal" fill="#222" textLength="34.2" lengthAdjust="spacing" >p = 0.094</text>
<path d="M170.7,582.7 L172.7,579.6 L175.0,571.9 L177.3,561.9 L180.4,559.6 L182.7,555.8 L185.0,551.2 L188.1,549.6 L191.2,548.5 L193.5,545.8 L195.8,544.2 L198.8,541.9 L201.9,541.2 L211.2,539.6 L220.4,538.8 L225.0,538.8 L228.1,537.3 L231.2,535.0 L237.3,533.8 L240.0,533.8 L244.6,532.7 L249.2,531.6 L255.4,531.2 L256.9,529.6 L264.6,529.2 L270.8,528.5 L280.0,527.3 L298.5,527.0 L301.5,526.1 L311.1,526.1" fill="none" stroke="#233b66" stroke-width="1.9" stroke-linejoin="miter"/>
<path d="M178.7,560.9 V559.0 M184.0,553.2 V551.3 M189.3,549.2 V547.3 M194.6,545.0 V543.1 M199.9,541.7 V539.8 M205.2,540.6 V538.7 M210.5,539.7 V537.8 M215.8,539.2 V537.3 M221.1,538.8 V536.9 M226.4,538.1 V536.2 M231.7,534.9 V533.0 M237.0,533.9 V532.0 M242.3,533.2 V531.4 M247.6,532.0 V530.1 M252.9,531.4 V529.5 M258.2,529.5 V527.6 M263.5,529.3 V527.4 M268.8,528.7 V526.8 M274.1,528.1 V526.2 M279.4,527.4 V525.5 M284.7,527.2 V525.3 M290.0,527.1 V525.2 M295.3,527.1 V525.2 M300.6,526.4 V524.5 M305.9,526.1 V524.2" stroke="#233b66" stroke-width="0.8" fill="none"/>
<path d="M170.7,582.7 L172.7,581.9 L174.2,579.6 L175.8,576.5 L176.5,571.9 L178.8,568.8 L181.9,565.8 L185.0,561.2 L188.1,558.8 L191.9,558.1 L193.5,554.2 L195.8,551.9 L198.8,550.1 L201.2,546.5 L223.5,546.5 L224.2,545.0 L228.1,543.5 L232.7,541.9 L235.0,540.4 L311.1,540.4" fill="none" stroke="#9a183b" stroke-width="1.9" stroke-linejoin="miter"/>
<path d="M178.7,568.9 V567.0 M184.0,562.7 V560.8 M189.3,558.6 V556.7 M194.6,553.1 V551.2 M199.9,548.4 V546.5 M205.2,546.5 V544.6 M210.5,546.5 V544.6 M215.8,546.5 V544.6 M221.1,546.5 V544.6 M226.4,544.2 V542.3 M231.7,542.2 V540.3 M237.0,540.4 V538.5 M242.3,540.4 V538.5 M247.6,540.4 V538.5 M252.9,540.4 V538.5 M258.2,540.4 V538.5 M263.5,540.4 V538.5 M268.8,540.4 V538.5 M274.1,540.4 V538.5 M279.4,540.4 V538.5 M284.7,540.4 V538.5 M290.0,540.4 V538.5 M295.3,540.4 V538.5 M300.6,540.4 V538.5 M305.9,540.4 V538.5" stroke="#9a183b" stroke-width="0.8" fill="none"/>
<rect x="0" y="0" width="520" height="1.6" fill="#000"/>
<rect x="0" y="0" width="1.5" height="620" fill="#000"/>
<rect x="518.1" y="0" width="1.9" height="620" fill="#000"/>
<rect x="0" y="618.2" width="520" height="1.8" fill="#000"/>
</svg>
</body></html>
